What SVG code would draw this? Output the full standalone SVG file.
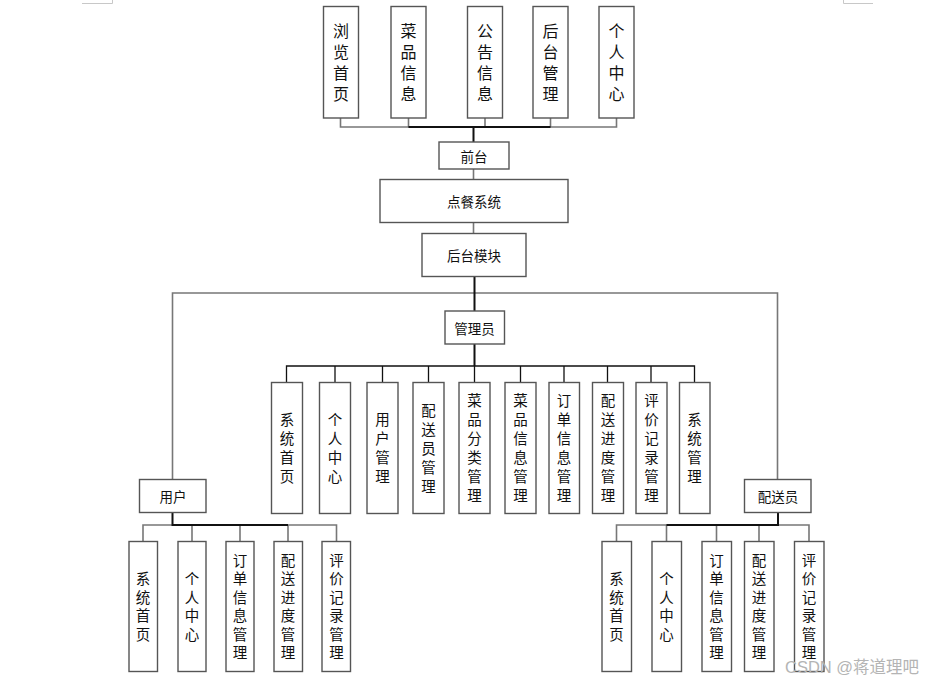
<svg xmlns="http://www.w3.org/2000/svg" width="937" height="685" viewBox="0 0 937 685">
<style>
.box{fill:#fff;stroke:#555;stroke-width:1.4}
.t{font-family:"Noto Sans CJK SC","Noto Sans",sans-serif;fill:#111;text-anchor:middle;dominant-baseline:central}
.vt{font-family:"Noto Sans CJK SC","Noto Sans",sans-serif;fill:#111;text-anchor:middle;writing-mode:vertical-rl}
.h{font-size:13.5px}
.v16{font-size:16px;letter-spacing:5px}
.va{font-size:14.5px;letter-spacing:4.5px}
.vb{font-size:14.5px;letter-spacing:4px}
.g{stroke:#777;stroke-width:1.6;fill:none}
.k{stroke:#111;stroke-width:1.3;fill:none}
.kb{stroke:#111;stroke-width:2;fill:none}
.mark{stroke:#c8c8c8;stroke-width:1;fill:none}
.wm{font-family:"Liberation Sans","Noto Sans CJK SC",sans-serif;font-size:16.5px;fill:#b4b4b4}
</style>
<path class="mark" d="M82 3.5H112.5V0M843.5 0V3.5H873"/>
<g id="connectors">
  <path class="g" d="M340.5 118V127H616.5V118M408.5 118V127M485 118V127M550.5 118V127"/>
  <path class="kb" d="M408.5 127H550.5M473.5 127V142"/>
  <path class="g" d="M473.5 169V179M473.5 223V233"/>
  <path class="g" d="M172.5 479V293H777.5V479"/>
  <path class="kb" d="M474.5 277V311M474.5 344V366"/>
  <path class="k" d="M286.5 382V366H694.5V382M335 366V382M382.5 366V382M428.5 366V382M474.5 366V382M520.5 366V382M564 366V382M607.5 366V382M651 366V382"/>
  <path class="g" d="M143 541V525H336.5V541M192 525V541M240 525V541M288 525V541"/>
  <path class="kb" d="M172.5 513V525H288"/>
  <path class="g" d="M616.5 541V525H809V541M666.5 525V541M716.5 525V541M759 525V541"/>
  <path class="kb" d="M778 513V525H666.5"/>
</g>
<g id="n-browse"><rect class="box" x="323.5" y="6.5" width="35" height="111.5"/><text class="vt v16" x="341" y="64.5">浏览首页</text></g>
<g id="n-dish"><rect class="box" x="391" y="6.5" width="35" height="111.5"/><text class="vt v16" x="408.5" y="64.5">菜品信息</text></g>
<g id="n-notice"><rect class="box" x="467.5" y="6.5" width="35" height="111.5"/><text class="vt v16" x="485" y="64.5">公告信息</text></g>
<g id="n-backend"><rect class="box" x="533" y="6.5" width="35" height="111.5"/><text class="vt v16" x="550.5" y="64.5">后台管理</text></g>
<g id="n-personal"><rect class="box" x="599" y="6.5" width="35" height="111.5"/><text class="vt v16" x="616.5" y="64.5">个人中心</text></g>
<g id="n-front"><rect class="box" x="439" y="142" width="70" height="27"/><text class="t h" x="474" y="155.5">前台</text></g>
<g id="n-system"><rect class="box" x="380" y="179.5" width="188" height="43"/><text class="t h" x="474" y="201">点餐系统</text></g>
<g id="n-module"><rect class="box" x="422" y="233.5" width="104" height="43"/><text class="t h" x="474" y="255">后台模块</text></g>
<g id="n-admin"><rect class="box" x="445" y="311" width="59.5" height="33"/><text class="t h" x="474.5" y="327.5">管理员</text></g>
<g id="n-user"><rect class="box" x="139.5" y="479.5" width="66.5" height="33"/><text class="t h" x="173" y="496">用户</text></g>
<g id="n-courier"><rect class="box" x="744.5" y="479.5" width="66.5" height="33"/><text class="t h" x="778" y="496">配送员</text></g>
<g id="a1"><rect class="box" x="271.5" y="382.5" width="31" height="131"/><text class="vt va" x="287" y="449.75">系统首页</text></g>
<g id="a2"><rect class="box" x="319.5" y="382.5" width="31" height="131"/><text class="vt va" x="335" y="449.75">个人中心</text></g>
<g id="a3"><rect class="box" x="367" y="382.5" width="31" height="131"/><text class="vt va" x="382.5" y="449.75">用户管理</text></g>
<g id="a4"><rect class="box" x="413" y="382.5" width="31" height="131"/><text class="vt va" x="428.5" y="450.25">配送员管理</text></g>
<g id="a5"><rect class="box" x="459" y="382.5" width="31" height="131"/><text class="vt va" x="474.5" y="449.75">菜品分类管理</text></g>
<g id="a6"><rect class="box" x="505" y="382.5" width="31" height="131"/><text class="vt va" x="520.5" y="449.75">菜品信息管理</text></g>
<g id="a7"><rect class="box" x="549" y="382.5" width="30.5" height="131"/><text class="vt va" x="564" y="449.75">订单信息管理</text></g>
<g id="a8"><rect class="box" x="592.5" y="382.5" width="31" height="131"/><text class="vt va" x="608" y="449.75">配送进度管理</text></g>
<g id="a9"><rect class="box" x="636" y="382.5" width="31" height="131"/><text class="vt va" x="651.5" y="449.75">评价记录管理</text></g>
<g id="a10"><rect class="box" x="679.5" y="382.5" width="30.5" height="131"/><text class="vt va" x="694.5" y="449.75">系统管理</text></g>
<g id="u1"><rect class="box" x="129" y="541.5" width="28.5" height="130"/><text class="vt vb" x="143" y="608.25">系统首页</text></g>
<g id="u2"><rect class="box" x="178" y="541.5" width="28" height="130"/><text class="vt vb" x="192" y="608.25">个人中心</text></g>
<g id="u3"><rect class="box" x="226" y="541.5" width="28" height="130"/><text class="vt vb" x="240" y="608.25">订单信息管理</text></g>
<g id="u4"><rect class="box" x="274" y="541.5" width="28.5" height="130"/><text class="vt vb" x="288" y="608.25">配送进度管理</text></g>
<g id="u5"><rect class="box" x="322" y="541.5" width="28.5" height="130"/><text class="vt vb" x="336.5" y="608.25">评价记录管理</text></g>
<g id="c1"><rect class="box" x="602" y="541.5" width="29.5" height="130"/><text class="vt vb" x="616.5" y="608.25">系统首页</text></g>
<g id="c2"><rect class="box" x="652" y="541.5" width="29.5" height="130"/><text class="vt vb" x="666.5" y="608.25">个人中心</text></g>
<g id="c3"><rect class="box" x="702" y="541.5" width="29.5" height="130"/><text class="vt vb" x="716.5" y="608.25">订单信息管理</text></g>
<g id="c4"><rect class="box" x="744.5" y="541.5" width="29.5" height="130"/><text class="vt vb" x="759" y="608.25">配送进度管理</text></g>
<g id="c5"><rect class="box" x="794.5" y="541.5" width="29.5" height="130"/><text class="vt vb" x="809" y="608.25">评价记录管理</text></g>
<text class="wm" x="785" y="673">CSDN @蒋道理吧</text>
</svg>
